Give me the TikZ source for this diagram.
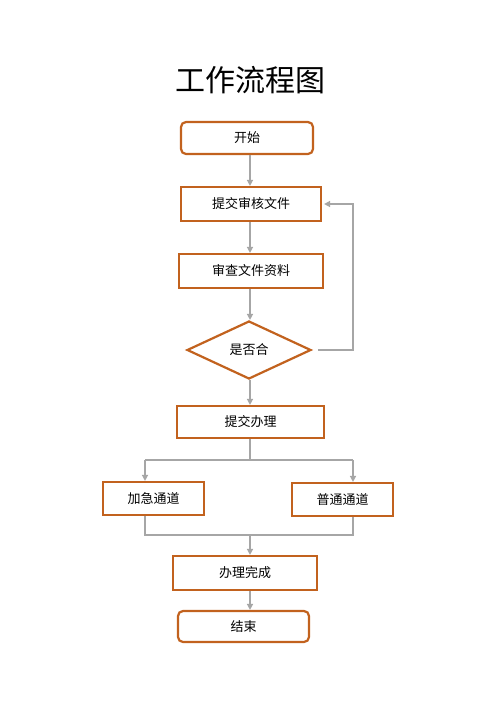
\documentclass[tikz,border=0pt]{standalone}
\usepackage{fontspec}
\newfontfamily\cjk{Noto Sans CJK SC}
\usetikzlibrary{shapes.geometric,arrows.meta}
\definecolor{boxc}{HTML}{C2621E}
\definecolor{linec}{HTML}{A6A6A6}
\tikzset{
  box/.style={draw=boxc, line width=2.2pt, fill=white, inner sep=0pt, font=\cjk\fontsize{13}{13}\selectfont},
  rbox/.style={box, rounded corners=5pt},
  dbox/.style={box, diamond, aspect=2.14},
  conn/.style={draw=linec, line width=1.5pt},
  arr/.style={conn, -{Triangle[width=6pt,length=6pt]}}
}
\begin{document}
\begin{tikzpicture}[x=1pt,y=-1pt]
\useasboundingbox (0,0) rectangle (500,707);
\fill[white] (0,0) rectangle (500,707);
\node[font=\cjk\fontsize{30}{30}\selectfont] (title) at (250,80) {工作流程图};
\node[rbox, minimum width=132pt, minimum height=32pt] (start) at (247,138) {开始};
\node[box, minimum width=140pt, minimum height=34pt] (submit) at (251,204) {提交审核文件};
\node[box, minimum width=144pt, minimum height=34pt] (review) at (251,271) {审查文件资料};
\node[dbox, minimum width=124pt, minimum height=58pt] (dec) at (249,350) {是否合};
\node[box, minimum width=147pt, minimum height=32pt] (handle) at (250.5,422) {提交办理};
\node[box, minimum width=101pt, minimum height=33pt] (urgent) at (153.5,498.5) {加急通道};
\node[box, minimum width=101pt, minimum height=33pt] (normal) at (342.5,499.5) {普通通道};
\node[box, minimum width=144pt, minimum height=34pt] (done) at (245,573) {办理完成};
\node[rbox, minimum width=131pt, minimum height=31pt] (end) at (243.5,626.5) {结束};
\coordinate (spine) at (250,0);
\coordinate (fb) at (353,351);
\coordinate (bl) at (145,460);
\coordinate (br) at (353,460);
\coordinate (ml) at (145,535);
\coordinate (mr) at (353,535);
\begin{scope}[on background layer/.style={}]
\draw[arr] (start.south -| spine) -- (submit.north -| spine);
\draw[arr] (submit.south -| spine) -- (review.north -| spine);
\draw[arr] (review.south -| spine) -- (dec.north -| spine);
\draw[arr] (dec.south -| spine) -- (handle.north -| spine);
\draw[arr, shorten <=6pt] (dec.east) -- (dec.east -| fb) |- ([xshift=2pt]submit.east);
\draw[conn] (handle.south -| spine) -- (spine |- bl);
\draw[conn] (bl) -- (br);
\draw[arr] (bl) -- (urgent.north -| bl);
\draw[arr] (br) -- (normal.north -| br);
\draw[conn] (urgent.south -| bl) -- (ml) -- (mr) -- (normal.south -| br);
\draw[arr] (spine |- ml) -- (done.north -| spine);
\draw[arr] (done.south -| spine) -- (end.north -| spine);
\end{scope}
\end{tikzpicture}
\end{document}
